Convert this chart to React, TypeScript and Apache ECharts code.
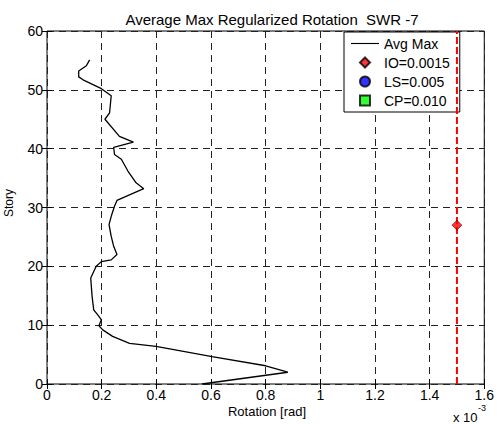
import React, { useEffect, useRef } from "react";
import * as echarts from "echarts";

// Average max regularized rotation (x 10^-3 rad) per story
const stories = [0, 2, 3.1, 4.65, 6.4, 6.9, 8.1, 9.2, 9.9, 10.9, 11.5, 12.6, 14.9, 18, 20, 20.8, 21.1, 22, 23.4, 25.1, 27.1, 28.5, 30.2, 31.2, 33.2, 34.2, 36.2, 38.2, 39, 40.2, 41.1, 42.1, 45, 46.1, 49, 50.2, 51.7, 52.2, 53.2, 54.1, 55.1];
const rotation = [0.567, 0.881, 0.8, 0.604, 0.399, 0.302, 0.24, 0.204, 0.19, 0.199, 0.19, 0.171, 0.165, 0.16, 0.18, 0.199, 0.235, 0.256, 0.244, 0.235, 0.227, 0.235, 0.247, 0.256, 0.354, 0.326, 0.296, 0.272, 0.247, 0.244, 0.316, 0.265, 0.212, 0.229, 0.235, 0.199, 0.132, 0.116, 0.116, 0.144, 0.156];

const ioLimit = 1.5; // x 10^-3
const ioStory = 27;
const storyRange = [0, 60];
const rotRange = [0, 1.6];
const legendNames = ["Avg Max", "IO=0.0015", "LS=0.005", "CP=0.010"];

const FONT = "Arial, 'Liberation Sans', sans-serif";

export default function App() {
  const ref = useRef<HTMLDivElement>(null);
  useEffect(() => {
    if (!ref.current) return;
    const chart = echarts.init(ref.current, undefined, { renderer: "svg" });
    const lineData = stories.map((s, i) => [rotation[i], s]);
    const gridLine = { show: true, lineStyle: { color: "#222", type: [7, 5] as any, width: 1 } };
    const tick = { show: true, inside: true, length: 5, lineStyle: { color: "#000" } };
    chart.setOption({
      animation: false,
      backgroundColor: "#fff",
      textStyle: { fontFamily: FONT },
      title: {
        text: "Average Max Regularized Rotation  SWR -7",
        left: 267,
        textAlign: "center",
        top: 7,
        textStyle: { fontSize: 15, fontWeight: "normal", color: "#000", fontFamily: FONT },
      },
      grid: { left: 47, top: 31, right: 9, bottom: 40, show: true, borderColor: "#000", borderWidth: 1, backgroundColor: "#fff" },
      legend: {
        orient: "vertical",
        left: 344,
        top: 32,
        padding: [4, 10, 4, 7],
        itemWidth: 28,
        itemHeight: 10,
        itemGap: 4,
        symbolKeepAspect: true,
        backgroundColor: "#fff",
        borderColor: "#000",
        borderWidth: 1,
        borderRadius: 0,
        z: 4,
        textStyle: { fontSize: 14, color: "#000", fontFamily: FONT, lineHeight: 15 },
        data: [
          { name: legendNames[0], icon: "path://M0,0 H30 V1.2 H0 Z", itemStyle: { color: "#000", borderWidth: 0 } },
          { name: legendNames[1], icon: "path://M5,0 L10,5 L5,10 L0,5 Z" },
          { name: legendNames[2], icon: "circle" },
          { name: legendNames[3], icon: "path://M1.2,1.2 H8.8 V8.8 H1.2 Z" },
        ],
      },
      xAxis: [
        {
          type: "value",
          min: rotRange[0],
          max: rotRange[1],
          interval: 0.2,
          axisLine: { show: false },
          axisTick: tick,
          axisLabel: {
            color: "#000",
            fontSize: 14,
            margin: 4,
            fontFamily: FONT,
            formatter: (v: number) => String(+v.toFixed(1)),
          },
          splitLine: gridLine,
        },
        {
          type: "value",
          position: "top",
          min: rotRange[0],
          max: rotRange[1],
          interval: 0.2,
          axisLine: { show: false },
          axisTick: tick,
          axisLabel: { show: false },
          splitLine: { show: false },
        },
      ],
      yAxis: [
        {
          type: "value",
          min: storyRange[0],
          max: storyRange[1],
          interval: 10,
          axisLine: { show: false },
          axisTick: tick,
          axisLabel: { color: "#000", fontSize: 14, margin: 4, fontFamily: FONT },
          splitLine: gridLine,
        },
        {
          type: "value",
          position: "right",
          min: storyRange[0],
          max: storyRange[1],
          interval: 10,
          axisLine: { show: false },
          axisTick: tick,
          axisLabel: { show: false },
          splitLine: { show: false },
        },
      ],
      series: [
        {
          name: legendNames[0],
          type: "line",
          data: lineData,
          symbol: "none",
          lineStyle: { color: "#000", width: 1.3 },
          itemStyle: { color: "#000" },
          z: 3,
        },
        {
          name: "IO limit",
          type: "line",
          data: [[ioLimit, storyRange[0]], [ioLimit, storyRange[1]]],
          symbol: "none",
          lineStyle: { color: "#ff0000", width: 2, type: [7, 3] as any },
          z: 10,
        },
        {
          name: legendNames[1],
          type: "scatter",
          data: [[ioLimit, ioStory]],
          symbol: "diamond",
          symbolSize: 10,
          itemStyle: { color: "#ff0000", borderColor: "#000", borderWidth: 0.6 },
          z: 11,
        },
        {
          name: legendNames[2],
          type: "scatter",
          data: [],
          symbol: "circle",
          symbolSize: 10,
          itemStyle: { color: "#0000ff", borderColor: "#000", borderWidth: 0.6 },
        },
        {
          name: legendNames[3],
          type: "scatter",
          data: [],
          symbol: "rect",
          symbolSize: 8,
          itemStyle: { color: "#00ff00", borderColor: "#000", borderWidth: 0.6 },
        },
      ],
      graphic: [
        {
          type: "text",
          x: 267,
          y: 411,
          style: { text: "Rotation [rad]", fontSize: 13, fill: "#000", align: "center", verticalAlign: "middle", fontFamily: FONT },
        },
        {
          type: "text",
          x: 9,
          y: 203,
          rotation: Math.PI / 2,
          style: { text: "Story", fontSize: 12, fill: "#000", align: "center", verticalAlign: "middle", fontFamily: FONT },
        },
        {
          type: "text",
          x: 453,
          y: 417,
          style: { text: "x 10", fontSize: 13, fill: "#000", align: "left", verticalAlign: "middle", fontFamily: FONT },
        },
        {
          type: "text",
          x: 478,
          y: 408,
          style: { text: "-3", fontSize: 9, fill: "#000", align: "left", verticalAlign: "middle", fontFamily: FONT },
        },
      ],
    });
    return () => chart.dispose();
  }, []);
  return <div ref={ref} style={{ position: "fixed", left: 0, top: 0, width: 497, height: 424 }} />;
}
